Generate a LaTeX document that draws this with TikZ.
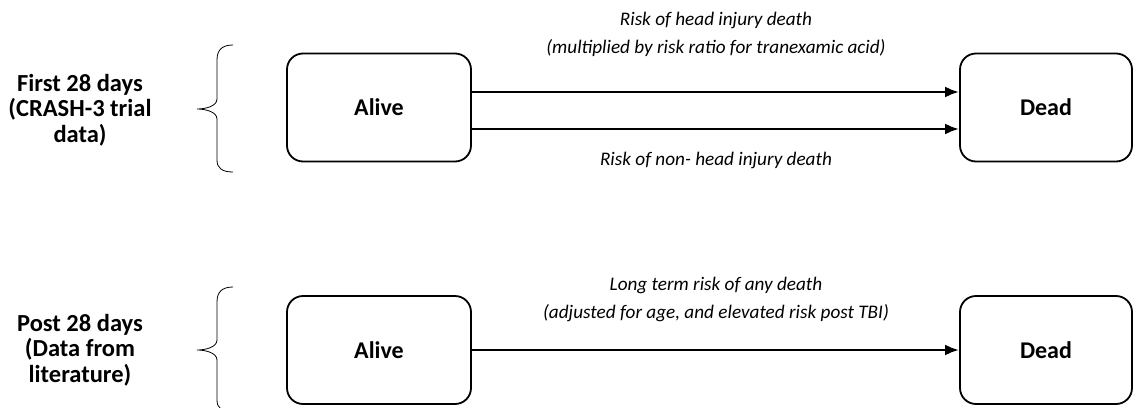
\documentclass[tikz,border=0pt]{standalone}
\usepackage{fontspec}
\setmainfont{Carlito}
\usetikzlibrary{arrows.meta}
\begin{document}
\begin{tikzpicture}[x=1pt,y=-1pt,
  statebox/.style={draw, line width=1.8pt, rounded corners=16pt, minimum width=184pt, minimum height=108pt, font=\fontsize{24}{28}\selectfont\bfseries, inner sep=0pt},
  sidelabel/.style={align=center, font=\fontsize{24.5}{25.5}\selectfont\bfseries},
  risklabel/.style={align=center, font=\fontsize{19.2}{28}\selectfont\itshape},
  flow/.style={line width=2.6pt, -{Latex[length=14pt,width=11pt]}},
  bracepath/.style={line width=0.8pt}]
\useasboundingbox (0,0) rectangle (1135,407);
% top row
\node[statebox] (alive1) at (379,107.5) {Alive};
\node[statebox, minimum width=172pt] (dead1) at (1046,107.5) {Dead};
\draw[flow] (alive1.east |- 0,92) -- (dead1.west |- 0,92);
\draw[flow] (alive1.east |- 0,129) -- (dead1.west |- 0,129);
\node[risklabel] (lab1) at (716,34) {Risk of head injury death\\(multiplied by risk ratio for tranexamic acid)};
\node[risklabel] (lab2) at (716,160) {Risk of non- head injury death};
\node[sidelabel] (side1) at (80,110) {First 28 days\\(CRASH-3 trial\\data)};
\draw[bracepath] (233,45) .. controls (222,45) and (217,50) .. (217,60) -- (217,99)
  .. controls (217,106) and (206,109) .. (197,109)
  .. controls (206,109) and (217,112) .. (217,119) -- (217,160)
  .. controls (217,168) and (222,172) .. (233,172);
% bottom row
\node[statebox] (alive2) at (379,350) {Alive};
\node[statebox, minimum width=172pt] (dead2) at (1046,350) {Dead};
\draw[flow] (alive2) -- (dead2);
\node[risklabel] (lab3) at (716,299) {Long term risk of any death\\(adjusted for age, and elevated risk post TBI)};
\node[sidelabel] (side2) at (80,350) {Post 28 days\\(Data from\\literature)};
\draw[bracepath] (233,287) .. controls (222,287) and (217,292) .. (217,302) -- (217,340)
  .. controls (217,347) and (206,350) .. (197,350)
  .. controls (206,350) and (217,353) .. (217,360) -- (217,400)
  .. controls (217,408) and (222,412) .. (233,412);
\end{tikzpicture}
\end{document}
